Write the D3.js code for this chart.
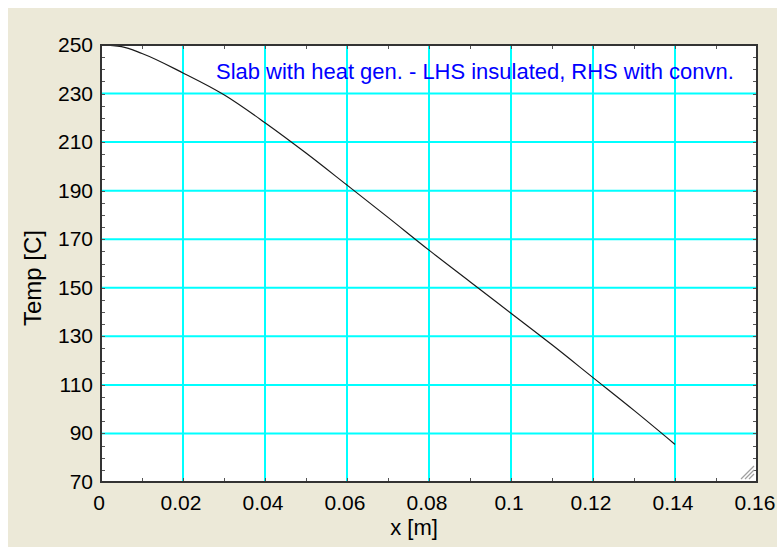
<!DOCTYPE html>
<html>
<head>
<meta charset="utf-8">
<script src="https://cdn.jsdelivr.net/npm/d3@7"></script>
<style>
  html, body { margin: 0; padding: 0; background: #fff; }
</style>
</head>
<body>
<div id="chart"></div>
<script>
// Temperature profile (x in m, temp in C)
const xValues = [0, 0.005, 0.01, 0.02, 0.03, 0.04, 0.05, 0.06, 0.07, 0.08, 0.09, 0.10, 0.11, 0.12, 0.13, 0.14];
const tempValues = [250, 249.3, 246.5, 238.5, 229.5, 218, 205.5, 192.3, 179, 165.5, 152.5, 139.5, 126.5, 113, 99.5, 85.5];

const xTicks = [0, 0.02, 0.04, 0.06, 0.08, 0.1, 0.12, 0.14, 0.16];
const xTickLabels = ["0", "0.02", "0.04", "0.06", "0.08", "0.1", "0.12", "0.14", "0.16"];
const yTicks = [70, 90, 110, 130, 150, 170, 190, 210, 230, 250];
const xMinorTicks = d3.range(0, 0.1601, 0.01);
const yMinorTicks = d3.range(70, 250.1, 5);

const titleText = "Slab with heat gen. - LHS insulated, RHS with convn.";

// Layout
const width = 777;
const height = 547;
const marginLeft = 101;
const marginRight = 20;
const marginTop = 45;
const marginBottom = 65;
const font = "'Liberation Sans', Arial, sans-serif";

const x = d3.scaleLinear().domain([0, 0.16]).range([marginLeft, width - marginRight]);
const y = d3.scaleLinear().domain([70, 250]).range([height - marginBottom, marginTop]);

const svg = d3.create("svg")
  .attr("width", width)
  .attr("height", height)
  .attr("viewBox", [0, 0, width, height])
  .style("display", "block")
  .style("font-family", font);

// window background (white strip at top/left, beige panel)
svg.append("rect").attr("width", width).attr("height", height).attr("fill", "#fff");
svg.append("rect")
  .attr("x", 8).attr("y", 8)
  .attr("width", width - 8).attr("height", height - 8)
  .attr("fill", "#ece9d8");

// plot area
svg.append("rect")
  .attr("x", x(0)).attr("y", y(250))
  .attr("width", x(0.16) - x(0)).attr("height", y(70) - y(250))
  .attr("fill", "#fff");

// grid
const grid = svg.append("g").attr("stroke", "#00ffff").attr("stroke-width", 2);
grid.selectAll("line.v")
  .data(xTicks.slice(1, -1))
  .join("line")
  .attr("class", "v")
  .attr("x1", d => x(d)).attr("x2", d => x(d))
  .attr("y1", y(250)).attr("y2", y(70));
grid.selectAll("line.h")
  .data(yTicks.slice(1, -1))
  .join("line")
  .attr("class", "h")
  .attr("x1", x(0)).attr("x2", x(0.16))
  .attr("y1", d => y(d)).attr("y2", d => y(d));

// minor ticks on all four sides, pointing inward
const ticks = svg.append("g").attr("stroke", "#555").attr("stroke-width", 1);
const tl = 4;
ticks.selectAll("line.xb")
  .data(xMinorTicks)
  .join("line")
  .attr("x1", d => Math.round(x(d)) + 0.5).attr("x2", d => Math.round(x(d)) + 0.5)
  .attr("y1", y(70)).attr("y2", y(70) - tl);
ticks.selectAll("line.xt")
  .data(xMinorTicks)
  .join("line")
  .attr("x1", d => Math.round(x(d)) + 0.5).attr("x2", d => Math.round(x(d)) + 0.5)
  .attr("y1", y(250)).attr("y2", y(250) + tl);
ticks.selectAll("line.yl")
  .data(yMinorTicks)
  .join("line")
  .attr("x1", x(0)).attr("x2", x(0) + tl)
  .attr("y1", d => Math.round(y(d)) + 0.5).attr("y2", d => Math.round(y(d)) + 0.5);
ticks.selectAll("line.yr")
  .data(yMinorTicks)
  .join("line")
  .attr("x1", x(0.16)).attr("x2", x(0.16) - tl)
  .attr("y1", d => Math.round(y(d)) + 0.5).attr("y2", d => Math.round(y(d)) + 0.5);

// the temperature curve
const line = d3.line()
  .x((d, i) => x(xValues[i]))
  .y(d => y(d))
  .curve(d3.curveMonotoneX);

svg.append("path")
  .datum(tempValues)
  .attr("d", line)
  .attr("fill", "none")
  .attr("stroke", "#1a1a1a")
  .attr("stroke-width", 1.2);

// frame
svg.append("rect")
  .attr("x", x(0)).attr("y", y(250))
  .attr("width", x(0.16) - x(0)).attr("height", y(70) - y(250))
  .attr("fill", "none")
  .attr("stroke", "#333")
  .attr("stroke-width", 2);

// resize grip in the corner
const grip = svg.append("g").attr("stroke", "#a0a0a0").attr("stroke-width", 1.2);
[0, 4, 8].forEach(o => {
  grip.append("line")
    .attr("x1", x(0.16) - 16 + o).attr("y1", y(70) - 3)
    .attr("x2", x(0.16) - 3).attr("y2", y(70) - 16 + o);
});

// tick labels
svg.append("g")
  .selectAll("text")
  .data(yTicks)
  .join("text")
  .attr("x", x(0) - 8)
  .attr("y", d => y(d) + 7)
  .attr("text-anchor", "end")
  .style("font-size", "21px")
  .attr("fill", "#000")
  .text(d => d);

svg.append("g")
  .selectAll("text")
  .data(xTicks)
  .join("text")
  .attr("x", d => x(d) - 2)
  .attr("y", y(70) + 28)
  .attr("text-anchor", "middle")
  .style("font-size", "21px")
  .attr("fill", "#000")
  .text((d, i) => xTickLabels[i]);

// axis titles
svg.append("text")
  .attr("x", 414)
  .attr("y", 535)
  .attr("text-anchor", "middle")
  .style("font-size", "22px")
  .attr("fill", "#000")
  .text("x [m]");

svg.append("text")
  .attr("transform", "translate(41,278) rotate(-90)")
  .attr("text-anchor", "middle")
  .style("font-size", "24px")
  .attr("fill", "#000")
  .text("Temp [C]");

// plot title
const title = svg.append("text")
  .attr("x", 216)
  .attr("y", 79)
  .style("font-size", "18px")
  .attr("fill", "#0000ff")
  .text(titleText);

document.getElementById("chart").appendChild(svg.node());

// fit title to the width seen in the picture
const tw = title.node().getComputedTextLength();
title.style("font-size", (18 * 518 / tw).toFixed(2) + "px");
</script>
</body>
</html>
